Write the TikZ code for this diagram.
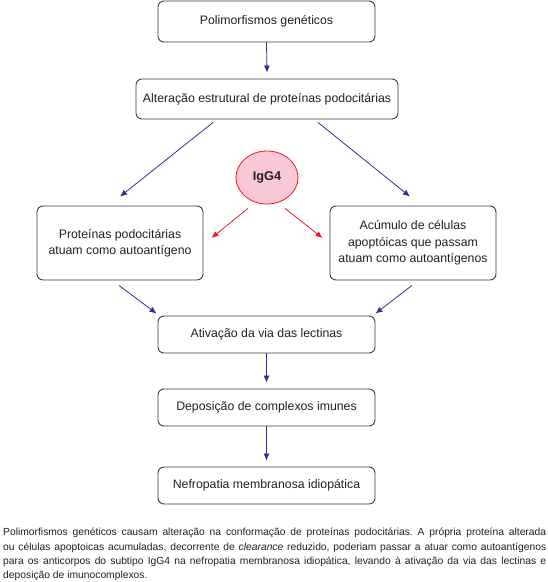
\documentclass[tikz,border=0pt]{standalone}
\usepackage{fontspec}
\setmainfont{Liberation Sans}
\usetikzlibrary{arrows.meta,shapes.geometric}
\definecolor{arrblue}{RGB}{46,49,146}
\definecolor{arrred}{RGB}{237,28,36}
\definecolor{pinkfill}{RGB}{248,200,215}
\definecolor{boxline}{RGB}{60,60,60}
\definecolor{txt}{RGB}{35,31,32}
\begin{document}
\begin{tikzpicture}[x=1pt,y=-1pt,
  box/.style={draw=boxline, line width=0.9pt, rounded corners=6pt, align=center,
    font=\fontsize{12.3}{16.3}\selectfont, text=txt, inner sep=0pt},
  barrow/.style={draw=arrblue, line width=0.8pt, -{Latex[length=7pt,width=6pt]}},
  rarrow/.style={draw=arrred, line width=0.8pt, -{Latex[length=7pt,width=6pt]}},
  igg/.style={ellipse, draw=arrred, line width=0.8pt, fill=pinkfill, inner sep=0pt,
    minimum width=62pt, minimum height=53pt, font=\fontsize{12.7}{14}\selectfont\bfseries, text=txt}
]
\useasboundingbox (0,0) rectangle (548,582);
\node[box, minimum width=217pt, minimum height=41pt] (b1) at (266.5,21.5) {Polimorfismos genéticos};
\node[box, minimum width=262pt, minimum height=40pt] (b2) at (267,99) {Alteração estrutural de proteínas podocitárias};
\node[box, minimum width=166pt, minimum height=74pt] (bl) at (120,243) {Proteínas podocitárias\\atuam como autoantígeno};
\node[box, minimum width=166pt, minimum height=74pt] (br) at (413,243) {Acúmulo de células\\apoptóicas que passam\\atuam como autoantígenos};
\node[igg] (ig) at (267,177.5) {IgG4};
\node[box, minimum width=217pt, minimum height=37pt] (b3) at (266.5,334.5) {Ativação da via das lectinas};
\node[box, minimum width=217pt, minimum height=37pt] (b4) at (266.5,407.5) {Deposição de complexos imunes};
\node[box, minimum width=217pt, minimum height=37pt] (b5) at (266.5,485.5) {Nefropatia membranosa idiopática};

\draw[barrow] (b1.south) -- ([yshift=6pt]b2.north);
\draw[barrow] ([xshift=-54pt,yshift=-3pt]b2.south) -- ([yshift=9pt]bl.north);
\draw[barrow] ([xshift=51pt,yshift=-3pt]b2.south) -- ([xshift=-3pt,yshift=9pt]br.north);
\draw[rarrow] ([xshift=-19pt,yshift=-4pt]ig.south) -- ([xshift=8pt,yshift=5pt]bl.east);
\draw[rarrow] ([xshift=18pt,yshift=-4pt]ig.south) -- ([xshift=-7pt,yshift=5pt]br.west);
\draw[barrow] ([xshift=-1pt,yshift=-5pt]bl.south) -- ([xshift=-1pt,yshift=2pt]b3.north west);
\draw[barrow] ([xshift=-1pt,yshift=-5pt]br.south) -- ([xshift=0pt,yshift=2pt]b3.north east);
\draw[barrow] (b3.south) -- ([yshift=6pt]b4.north);
\draw[barrow] (b4.south) -- ([yshift=6pt]b5.north);

\node[anchor=north west, inner sep=0pt, text width=543pt, align=justify,
  font=\fontsize{10.3}{14.4}\selectfont, text=txt] (cap) at (3,528)
  {\frenchspacing Polimorfismos genéticos causam alteração na conformação de proteínas podocitárias. A própria proteína alterada\linebreak
   ou células apoptoicas acumuladas, decorrente de \textit{clearance} reduzido, poderiam passar a atuar como autoantígenos\linebreak
   para os anticorpos do subtipo IgG4 na nefropatia membranosa idiopática, levando à ativação da via das lectinas e\linebreak
   deposição de imunocomplexos.\par};
\end{tikzpicture}
\end{document}
